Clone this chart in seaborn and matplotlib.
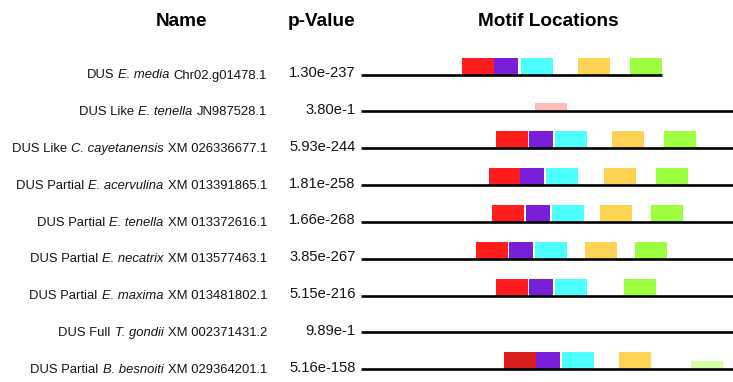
import matplotlib
matplotlib.use("Agg")
import matplotlib.pyplot as plt
import matplotlib.transforms as mtransforms
import numpy as np
import pandas as pd
import seaborn as sns

# Sequences: prefix, italic species, accession, p-value, sequence length
prefixes = ["DUS", "DUS Like", "DUS Like", "DUS Partial", "DUS Partial",
            "DUS Partial", "DUS Partial", "DUS Full", "DUS Partial"]
species = ["E. media", "E. tenella", "C. cayetanensis", "E. acervulina",
           "E. tenella", "E. necatrix", "E. maxima", "T. gondii", "B. besnoiti"]
accessions = ["Chr02.g01478.1", "JN987528.1", "XM 026336677.1", "XM 013391865.1",
              "XM 013372616.1", "XM 013577463.1", "XM 013481802.1",
              "XM 002371431.2", "XM 029364201.1"]
p_values = ["1.30e-237", "3.80e-1", "5.93e-244", "1.81e-258", "1.66e-268",
            "3.85e-267", "5.15e-216", "9.89e-1", "5.16e-158"]
seq_lengths = [301, 420, 420, 420, 420, 420, 420, 420, 420]

# Motif sites: sequence index, motif id, start position, relative score
site_seq = [0, 0, 0, 0, 0,
            1,
            2, 2, 2, 2, 2,
            3, 3, 3, 3, 3,
            4, 4, 4, 4, 4,
            5, 5, 5, 5, 5,
            6, 6, 6, 6,
            8, 8, 8, 8, 8]
site_motif = [1, 2, 3, 4, 5,
              6,
              1, 2, 3, 4, 5,
              1, 2, 3, 4, 5,
              1, 2, 3, 4, 5,
              1, 2, 3, 4, 5,
              1, 2, 3, 5,
              1, 2, 3, 4, 7]
site_start = [101, 133, 160, 217, 269,
              174,
              135, 168, 194, 251, 303,
              127.5, 158.5, 185, 243, 295,
              131, 164.5, 190.5, 238.5, 290,
              115, 147.5, 173.5, 223.5, 273.5,
              135, 167.5, 194, 263,
              142.5, 175, 201, 258, 330]
site_score = [1, 1, 1, 1, 1,
              0.5,
              1, 1, 1, 1, 1,
              1, 1, 1, 1, 1,
              1, 1, 1, 1, 1,
              1, 1, 1, 1, 1,
              1, 1, 1, 1,
              1, 1, 1, 1, 0.5]
motif_width = {1: 32, 2: 24, 3: 32, 4: 32, 5: 32, 6: 32, 7: 32}

motif_colors = {1: "#FF1C1C", 2: "#7A1FD9", 3: "#4DFFFF", 4: "#FFD454",
                5: "#9DFF40", 6: "#FFBABA", 7: "#D6FFA8"}
site_color_override = {(8, 1): "#DB1F1F"}

sns.set_theme(style="white")
plt.rcParams["font.family"] = ["Liberation Sans", "DejaVu Sans"]

W, H, DPI = 733, 382, 100
fig = plt.figure(figsize=(W / DPI, H / DPI), dpi=DPI)
fig.patch.set_facecolor("white")

row0_px, row_gap_px = 74.7, 36.8
ax_left_px, ax_top_px = 361, 40
ax = fig.add_axes([ax_left_px / W, 0, (W - ax_left_px) / W, (H - ax_top_px) / H])
ax.set_xlim(0, W - ax_left_px)
ax.set_ylim((H - row0_px) / row_gap_px, (ax_top_px - row0_px) / row_gap_px)
ax.axis("off")

# Sequence backbone lines
seq_df = pd.DataFrame({
    "pos": np.concatenate([[0, L] for L in seq_lengths]),
    "row": np.repeat(np.arange(len(seq_lengths)), 2),
})
sns.lineplot(data=seq_df, x="pos", y="row", units="row", estimator=None,
             color="black", linewidth=1.9, ax=ax, legend=False,
             solid_capstyle="butt")

# Motif boxes standing on the backbone
full_h = 17 / row_gap_px
sites = pd.DataFrame({"seq": site_seq, "motif": site_motif,
                      "start": site_start, "score": site_score})
for s in sites.itertuples():
    h = full_h * s.score
    col = site_color_override.get((s.seq, s.motif), motif_colors[s.motif])
    ax.bar(s.start, h, width=motif_width[s.motif], bottom=s.seq - h,
           align="edge", color=col, edgecolor="none", linewidth=0, zorder=1)
for line in ax.lines:
    line.set_zorder(2)

# Row labels (prefix, italic species, accession) laid out right to left
renderer = fig.canvas.get_renderer()
name_size = 9.4
space_px = 0.32 * name_size * DPI / 72
text_color = "#141414"
for i, (pre, sp, acc, pv) in enumerate(zip(prefixes, species, accessions, p_values)):
    y = i + 3.8 / row_gap_px
    x_px = 267
    for part, style in [(acc, "normal"), (sp, "italic"), (pre, "normal")]:
        trans = mtransforms.blended_transform_factory(
            mtransforms.IdentityTransform(), ax.transData)
        t = fig.text(x_px, y, part, transform=trans, ha="right", va="baseline",
                     fontsize=name_size, fontstyle=style, color=text_color)
        x_px -= t.get_window_extent(renderer).width + space_px
    ptrans = mtransforms.blended_transform_factory(fig.transFigure, ax.transData)
    fig.text(355.5 / W, i + 2.5 / row_gap_px, pv, transform=ptrans,
             ha="right", va="baseline", fontsize=10.6, color=text_color)

# Column headers
for x, title in [(181.5, "Name"), (322, "p-Value"), (548, "Motif Locations")]:
    fig.text(x / W, 1 - 25.5 / H, title, ha="center", va="baseline",
             fontsize=13.7, fontweight="bold", color="black")

fig.savefig("out.png", dpi=DPI, facecolor="white")
